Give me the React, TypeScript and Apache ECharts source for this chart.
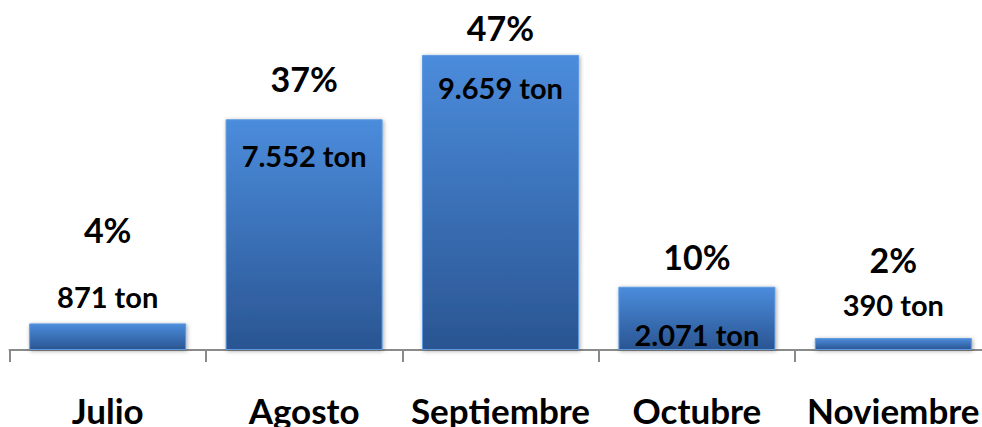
import React, { useEffect, useRef } from "react";
import * as echarts from "echarts";

const categories = ["Julio", "Agosto", "Septiembre", "Octubre", "Noviembre"];
const tons = [871, 7552, 9659, 2071, 390];
const tonLabels = ["871 ton", "7.552 ton", "9.659 ton", "2.071 ton", "390 ton"];
const pctLabels = ["4%", "37%", "47%", "10%", "2%"];
// label offsets from bar top (px) — styling only
const tonOffsets = [-27, 36, 33, 48, -34];
const pctOffsets = [-94, -41, -27, -30, -79];

const FONT = "Lato, 'Open Sans', sans-serif";

export default function App() {
  const ref = useRef<HTMLDivElement>(null);
  useEffect(() => {
    if (!ref.current) return;
    const chart = echarts.init(ref.current, null, { renderer: "svg" });
    const grad = new echarts.graphic.LinearGradient(0, 0, 0, 1, [
      { offset: 0, color: "#4b8cdc" },
      { offset: 1, color: "#2a5592" },
    ]);
    chart.setOption({
      animation: false,
      grid: { left: 9.5, width: 982, top: 44.5, bottom: 76 },
      xAxis: {
        type: "category",
        data: categories,
        axisLine: { show: true, lineStyle: { color: "#8a8a8a", width: 2 } },
        axisTick: { show: true, length: 12, lineStyle: { color: "#8a8a8a", width: 2 } },
        axisLabel: {
          interval: 0,
          color: "#000",
          fontFamily: FONT,
          fontWeight: "bold",
          fontSize: 35,
          margin: 42,
        },
      },
      yAxis: { type: "value", min: 0, max: 10000, show: false },
      series: [
        {
          type: "bar",
          barWidth: 157,
          data: tons.map((v, i) => ({
            value: v,
            label: {
              show: true,
              formatter: tonLabels[i],
              position: ["50%", tonOffsets[i]],
              align: "center",
              verticalAlign: "middle",
              color: "#000",
              fontFamily: FONT,
              fontWeight: "bold",
              fontSize: 29,
            },
          })),
          itemStyle: {
            color: grad,
            borderColor: "#5f9ae0",
            borderWidth: 1,
            shadowBlur: 4,
            shadowColor: "rgba(0,0,0,0.35)",
            shadowOffsetX: 1,
            shadowOffsetY: 1,
          },
        },
        {
          type: "bar",
          barWidth: 157,
          barGap: "-100%",
          silent: true,
          data: tons.map((v, i) => ({
            value: v,
            label: {
              show: true,
              formatter: pctLabels[i],
              position: ["50%", pctOffsets[i]],
              align: "center",
              verticalAlign: "middle",
              color: "#000",
              fontFamily: FONT,
              fontWeight: "bold",
              fontSize: 34,
            },
          })),
          itemStyle: { color: "rgba(0,0,0,0)" },
        },
      ],
    });
    return () => chart.dispose();
  }, []);
  return (
    <div
      style={{ position: "absolute", left: 0, top: 0, width: 982, height: 427, overflow: "hidden", background: "#fff" }}
    >
      <div ref={ref} style={{ width: 1010, height: 427 }} />
    </div>
  );
}
